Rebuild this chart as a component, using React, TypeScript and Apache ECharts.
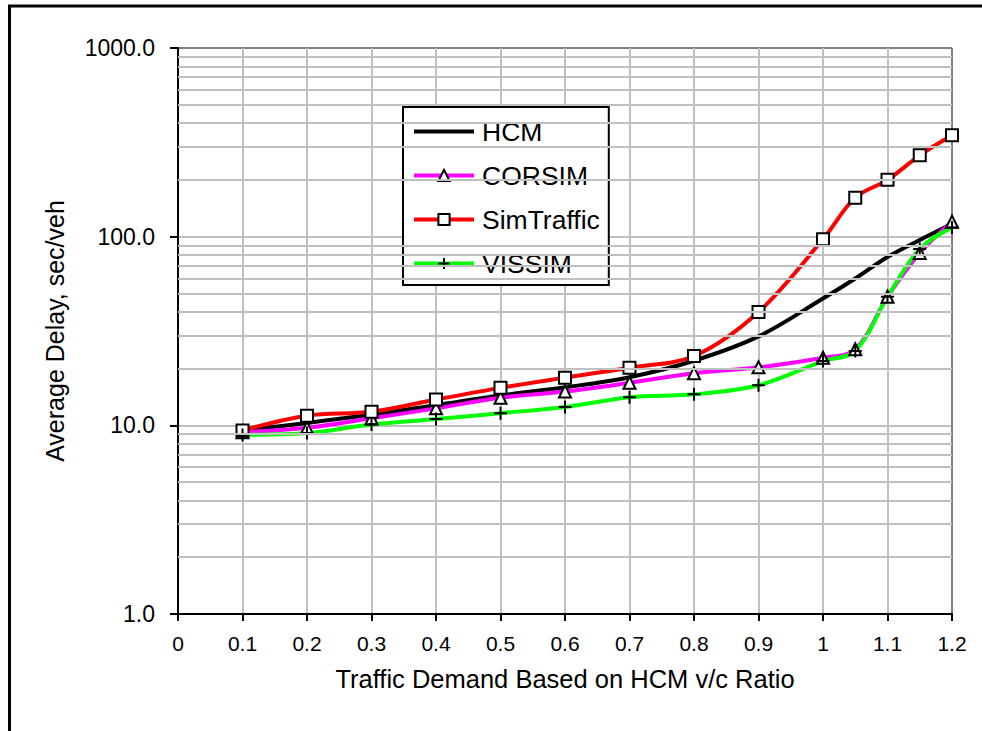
import React, { useEffect, useRef } from "react";
import * as echarts from "echarts";

const X_VALUES = [0.1, 0.2, 0.3, 0.4, 0.5, 0.6, 0.7, 0.8, 0.9, 1.0, 1.05, 1.1, 1.15, 1.2];
const HCM = [9.4, 10.3, 11.4, 12.8, 14.4, 15.9, 18.0, 22.0, 29.6, 47, 60, 78, 96, 117];
const CORSIM = [9.2, 9.7, 10.9, 12.3, 14.0, 15.1, 16.8, 18.9, 20.3, 22.8, 25.3, 48, 82, 120];
const SIMTRAFFIC = [9.4, 11.25, 11.8, 13.7, 15.8, 17.9, 20.2, 23.3, 39.9, 97, 161, 200, 270, 345];
const VISSIM = [8.9, 9.1, 10.1, 10.8, 11.6, 12.5, 14.1, 14.6, 16.3, 21.9, 24.8, 48, 86, 112];
const SERIES_NAMES = ["HCM", "CORSIM", "SimTraffic", "VISSIM"];
const MINOR_GRID = [2, 3, 4, 5, 6, 7, 8, 9, 20, 30, 40, 50, 60, 70, 80, 90, 200, 300, 400, 500, 600, 700, 800, 900];

const FONT = "'Liberation Sans', Arial, Helvetica, sans-serif";

const pairs = (ys: number[]) => X_VALUES.map((x, i) => [x, ys[i]]);

export default function App() {
  const ref = useRef<HTMLDivElement>(null);
  useEffect(() => {
    document.body.style.margin = "0";
    if (!ref.current) return;
    const chart = echarts.init(ref.current, null, { renderer: "svg" });
    const markerStyle = { color: "#fff", borderColor: "#000", borderWidth: 2 };
    const xSplitColors = Array(12).fill("#c0c0c0").concat(["#808080"]);
    chart.setOption({
      animation: false,
      backgroundColor: "#fff",
      textStyle: { fontFamily: FONT },
      grid: { left: 178, right: 30, top: 48, bottom: 117 },
      graphic: [
        { type: "line", shape: { x1: 8, y1: 6, x2: 982, y2: 6 }, style: { stroke: "#000", lineWidth: 3 } },
        { type: "line", shape: { x1: 9.5, y1: 5, x2: 9.5, y2: 731 }, style: { stroke: "#000", lineWidth: 3 } },
      ],
      legend: {
        orient: "vertical",
        left: 403,
        top: 107,
        data: [
          { name: "HCM", icon: "path://M0,0H60V4H0Z" },
          { name: "CORSIM" },
          { name: "SimTraffic" },
          { name: "VISSIM" },
        ],
        itemWidth: 60,
        itemHeight: 14,
        itemGap: 17,
        padding: [11, 9, 8, 9],
        backgroundColor: "#fff",
        borderColor: "#000",
        borderWidth: 2,
        lineStyle: { width: 4 },
        itemStyle: { borderWidth: 2 },
        textStyle: { fontSize: 26.5, color: "#000", fontFamily: FONT, padding: [0, 0, 0, 3] },
      },
      xAxis: {
        type: "value",
        min: 0,
        max: 1.2,
        interval: 0.1,
        name: "Traffic Demand Based on HCM v/c Ratio",
        nameLocation: "middle",
        nameGap: 52,
        nameTextStyle: { fontSize: 25.5, color: "#000", fontFamily: FONT },
        axisLine: { onZero: false, lineStyle: { color: "#000", width: 2 } },
        axisTick: { show: true, length: 7, lineStyle: { color: "#000", width: 2 } },
        axisLabel: {
          fontSize: 21,
          color: "#000",
          margin: 19,
          fontFamily: FONT,
          formatter: (v: number) => String(Number(v.toFixed(2))),
        },
        splitLine: { show: true, lineStyle: { color: xSplitColors, width: 2 } },
      },
      yAxis: {
        type: "log",
        logBase: 10,
        min: 1,
        max: 1000,
        name: "Average Delay, sec/veh",
        nameLocation: "middle",
        nameGap: 111,
        nameTextStyle: { fontSize: 25, color: "#000", fontFamily: FONT },
        axisLine: { show: true, lineStyle: { color: "#000", width: 2 } },
        axisTick: { show: true, length: 8, lineStyle: { color: "#000", width: 2 } },
        axisLabel: {
          fontSize: 23,
          color: "#000",
          margin: 23,
          fontFamily: FONT,
          formatter: (v: number) => v.toFixed(1),
        },
        splitLine: { show: true, lineStyle: { color: ["#c0c0c0", "#c0c0c0", "#c0c0c0", "#808080"], width: 2 } },
      },
      series: [
        {
          name: "__grid",
          type: "line",
          data: [],
          z: 1,
          silent: true,
          markLine: {
            silent: true,
            symbol: ["none", "none"],
            label: { show: false },
            lineStyle: { color: "#c0c0c0", type: "solid", width: 2 },
            data: MINOR_GRID.map((v) => ({ yAxis: v })),
          },
        },
        {
          name: SERIES_NAMES[0],
          type: "line",
          data: pairs(HCM),
          smooth: 0.35,
          showSymbol: false,
          symbol: "none",
          z: 3,
          lineStyle: { color: "#000", width: 4 },
          itemStyle: { color: "#000" },
        },
        {
          name: SERIES_NAMES[1],
          type: "line",
          data: pairs(CORSIM),
          smooth: 0.35,
          symbol: "triangle",
          symbolSize: 12,
          z: 3,
          lineStyle: { color: "#ff00ff", width: 4 },
          itemStyle: markerStyle,
        },
        {
          name: SERIES_NAMES[2],
          type: "line",
          data: pairs(SIMTRAFFIC),
          smooth: 0.35,
          symbol: "rect",
          symbolSize: 12,
          z: 3,
          lineStyle: { color: "#ff0000", width: 4 },
          itemStyle: markerStyle,
        },
        {
          name: SERIES_NAMES[3],
          type: "line",
          data: pairs(VISSIM),
          smooth: 0.35,
          symbol: "path://M0,6H12M6,0V12",
          symbolSize: 13,
          z: 3,
          lineStyle: { color: "#00ff00", width: 4 },
          itemStyle: { color: "none", borderColor: "#000", borderWidth: 2 },
        },
      ],
    });
    return () => chart.dispose();
  }, []);
  return <div ref={ref} style={{ width: 982, height: 731 }} />;
}
